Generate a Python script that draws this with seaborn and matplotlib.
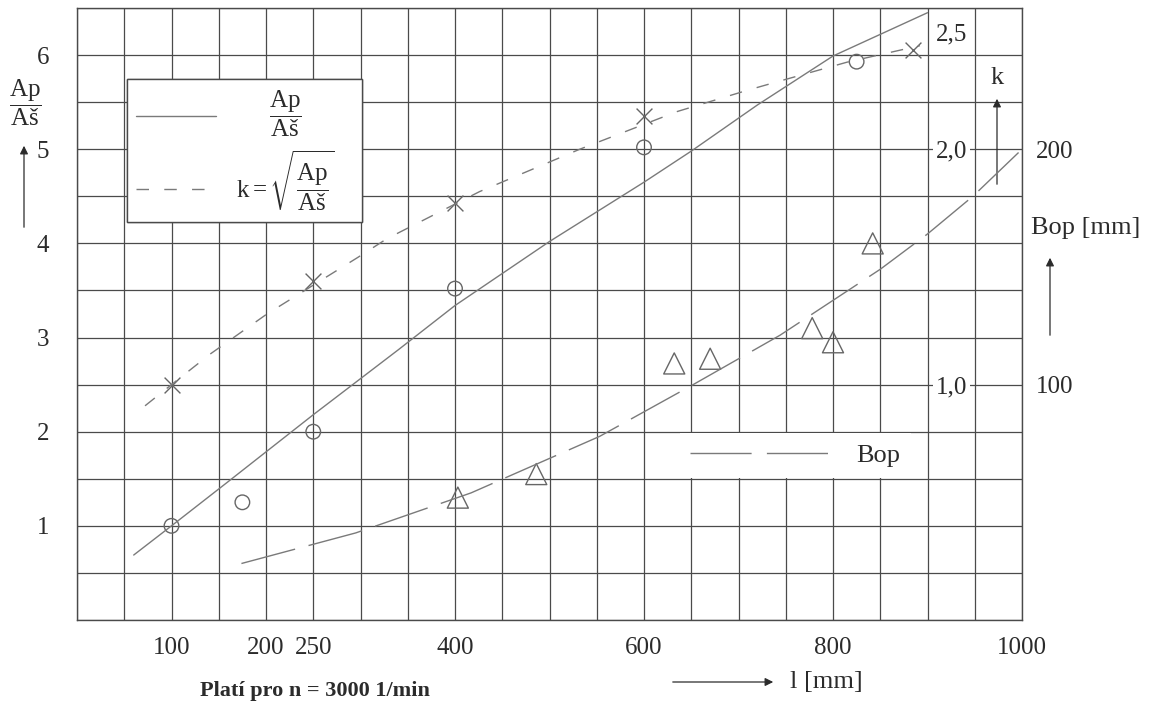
import numpy as np
import pandas as pd
import seaborn as sns
import matplotlib
matplotlib.use("Agg")
from matplotlib import pyplot as plt
from matplotlib.lines import Line2D

# ---- data ---------------------------------------------------------------
# Ap/Aš measured (circles) and fitted curve (solid)
l_ap_pts = [100, 175, 250, 400, 600, 825]
ap_pts = [1.0, 1.25, 2.0, 3.52, 5.02, 5.93]
l_ap_fit = [60, 100, 160, 250, 340, 400, 500, 600, 650, 720, 800, 900]
ap_fit = [0.69, 1.0, 1.47, 2.18, 2.87, 3.34, 4.02, 4.65, 4.98, 5.47, 5.99, 6.45]

# k = sqrt(Ap/Aš) measured (crosses) and fitted curve (short dashes)
l_k_pts = [100, 250, 400, 600, 885]
k_pts = [1.0, 1.44, 1.77, 2.14, 2.42]
l_k_fit = [72, 100, 141, 201, 297, 328, 426, 532, 635, 709, 744, 815, 892]
k_fit = [0.91, 1.0, 1.13, 1.30, 1.54, 1.62, 1.82, 2.0, 2.16, 2.25, 2.29, 2.37, 2.44]

# Bop [mm] measured (triangles) and fitted curve (long dashes)
l_bop_pts = [403, 486, 632, 670, 778, 800, 842]
bop_pts = [52, 62, 109, 111, 124, 118, 160]
l_bop_fit = [174, 295, 417, 553, 652, 744, 850, 900, 948, 1000]
bop_fit = [24, 37, 54, 78, 100, 121, 149, 164, 180, 200]

x_ticks = [100, 200, 250, 400, 600, 800, 1000]
y_ticks = [1, 2, 3, 4, 5, 6]
k_ticks = [1.0, 2.0, 2.5]
k_labels = ["1,0", "2,0", "2,5"]
bop_ticks = [100, 200]

W, H = 1156, 703
INK = "#2b2b2b"
GRID = "#4a4a4a"
CURVE = "#7a7a7a"

FRAC = r"\dfrac{\mathrm{Ap}}{\mathrm{Aš}}"


def fp(x, y):
    # pixel position (top-left origin) -> figure fraction
    return (x / W, 1 - y / H)


sns.set_style("white")
plt.rcParams["font.family"] = ["Liberation Serif", "DejaVu Serif"]
plt.rcParams["mathtext.fontset"] = "custom"
plt.rcParams["mathtext.rm"] = "Liberation Serif"
plt.rcParams["mathtext.it"] = "Liberation Serif:italic"
plt.rcParams["mathtext.bf"] = "Liberation Serif:bold"
plt.rcParams["text.color"] = INK

fig = plt.figure(figsize=(W / 100, H / 100), dpi=100)
ax = fig.add_axes([77 / W, 1 - 620 / H, 945 / W, 612 / H])
ax_k = ax.twinx()
ax_b = ax.twinx()

# ---- curves and points ---------------------------------------------------
sns.lineplot(x=l_ap_fit, y=ap_fit, ax=ax, color=CURVE, linewidth=1.0, legend=False)
sns.scatterplot(x=l_ap_pts, y=ap_pts, ax=ax, marker="o", s=110,
                facecolor="none", edgecolor="#666666", linewidth=1.0, legend=False)

sns.lineplot(x=l_k_fit, y=k_fit, ax=ax_k, color=CURVE, linewidth=1.0,
             linestyle=(0, (9, 11)), legend=False)
sns.scatterplot(x=l_k_pts, y=k_pts, ax=ax_k, marker="x", s=130,
                color="#666666", linewidth=1.0, legend=False)

sns.lineplot(x=l_bop_fit, y=bop_fit, ax=ax_b, color=CURVE, linewidth=1.0,
             linestyle=(0, (40, 10)), legend=False)
sns.scatterplot(x=l_bop_pts, y=bop_pts, ax=ax_b, marker="^", s=230,
                facecolor="none", edgecolor="#666666", linewidth=1.0, legend=False)

# ---- axes / grid -----------------------------------------------------------
ax.set_xlim(0, 1000)
ax.set_ylim(0, 6.5)
ax_k.set_ylim(0, 2.6)
ax_b.set_ylim(0, 260)

ax.set_xticks(x_ticks)
ax.set_xticks(np.arange(0, 1001, 50), minor=True)
ax.set_yticks(y_ticks)
ax.set_yticks(np.arange(0, 6.51, 0.5), minor=True)
ax.grid(True, which="both", color=GRID, linewidth=0.9)
ax.set_axisbelow(True)
ax.tick_params(axis="both", which="both", length=0, labelsize=18, colors=INK)
ax.tick_params(axis="x", pad=12)
ax.tick_params(axis="y", pad=20)
ax.set_xlabel("")
ax.set_ylabel("")
for sp in ax.spines.values():
    sp.set_color(GRID)
    sp.set_linewidth(1.0)

for a in (ax_k, ax_b):
    for sp in a.spines.values():
        sp.set_visible(False)
    a.set_ylabel("")

ax_k.set_yticks(k_ticks)
ax_k.set_yticklabels(k_labels)
ax_k.tick_params(axis="y", length=0, labelsize=18, colors=INK, pad=-62)
for lbl in ax_k.get_yticklabels():
    lbl.set_bbox(dict(facecolor="white", edgecolor="none", pad=2))

ax_b.set_yticks(bop_ticks)
ax_b.tick_params(axis="y", length=0, labelsize=18, colors=INK, pad=10)

# ---- legends ---------------------------------------------------------------
h_ap = Line2D([], [], color=CURVE, linewidth=1.0)
h_k = Line2D([], [], color=CURVE, linewidth=1.0, linestyle=(0, (9, 11)))
leg1 = ax.legend([h_ap, h_k],
                 [r"$\quad\;\;\;" + FRAC + "$",
                  r"$\mathrm{k} = \sqrt{" + FRAC + "}$"],
                 loc="upper left", bbox_to_anchor=(0.0529, 0.0, 0.2487, 0.884),
                 mode="expand", borderaxespad=0,
                 fontsize=18, frameon=True, fancybox=False, framealpha=1,
                 edgecolor=GRID, handlelength=3.2, handletextpad=0.8,
                 labelspacing=0.35, borderpad=0.38)
leg1.get_frame().set_linewidth(1.0)
ax.add_artist(leg1)

h_bop = Line2D([], [], color=CURVE, linewidth=1.0, linestyle=(0, (44, 11)))
leg2 = ax_b.legend([h_bop], ["Bop"], loc="upper left",
                   bbox_to_anchor=(0.638, 0.3056), borderaxespad=0,
                   fontsize=19, frameon=True, fancybox=False, framealpha=1,
                   edgecolor="none", handlelength=5.5, handletextpad=0.8,
                   borderpad=0.4)

# ---- axis captions with arrows ---------------------------------------------
arrow = dict(arrowstyle="-|>", color=INK, lw=0.9, mutation_scale=12)

fig.text(*fp(25, 103), "$" + FRAC + "$", fontsize=18, ha="center", va="center")
ax.annotate("", xy=fp(24, 143), xytext=fp(24, 230), xycoords="figure fraction",
            textcoords="figure fraction", arrowprops=arrow)

fig.text(*fp(997, 78), "k", fontsize=19, ha="center", va="center")
ax.annotate("", xy=fp(997, 96), xytext=fp(997, 187), xycoords="figure fraction",
            textcoords="figure fraction", arrowprops=arrow)

fig.text(*fp(1086, 228), "Bop [mm]", fontsize=19, ha="center", va="center")
ax.annotate("", xy=fp(1050, 255), xytext=fp(1050, 338), xycoords="figure fraction",
            textcoords="figure fraction", arrowprops=arrow)

ax.annotate("", xy=fp(776, 682), xytext=fp(670, 682), xycoords="figure fraction",
            textcoords="figure fraction", arrowprops=arrow)
fig.text(*fp(790, 682), "l [mm]", fontsize=19, ha="left", va="center")

fig.text(*fp(200, 701), "Platí pro n = 3000 1/min", fontsize=16,
         fontweight="bold", ha="left", va="bottom")

fig.savefig("out.png", dpi=100, facecolor="white")
